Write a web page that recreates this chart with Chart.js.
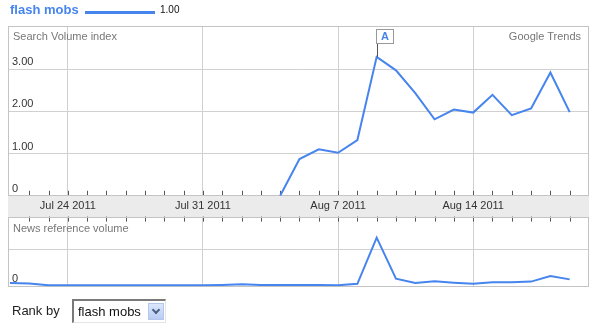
<!DOCTYPE html>
<html>
<head>
<meta charset="utf-8">
<script src="https://cdn.jsdelivr.net/npm/chart.js"></script>
<style>
  body { margin: 0; background: #fff; width: 606px; height: 326px; overflow: hidden; position: relative;
         font-family: "Liberation Sans", Arial, sans-serif; }
  .abs { position: absolute; white-space: nowrap; }
  .note { font-size: 11px; line-height: 13px; color: #777; }
  #topBox { position: absolute; left: 0; top: 0; width: 606px; height: 217px; }
  #newsBox { position: absolute; left: 0; top: 206px; width: 606px; height: 91px; }
  #select { left: 72px; top: 299px; width: 94px; height: 24px; box-sizing: border-box;
            border-top: 2px solid #7a7a7a; border-left: 2px solid #7a7a7a;
            border-right: 1px solid #e4e4e4; border-bottom: 1px solid #e4e4e4; }
  #select span { position: absolute; left: 4px; top: 3px; font-size: 13px; line-height: 16px; color: #111;
                 font-family: "Liberation Sans Narrow", "Liberation Sans", Arial, sans-serif; }
  #select i { position: absolute; right: 1px; top: 2px; width: 16px; height: 17px;
              background: linear-gradient(#dbe6fb, #b9cdf3); border: 1px solid #b4c6ee; box-sizing: border-box; }
  #select i:after { content: ""; position: absolute; left: 4px; top: 3px; width: 4px; height: 4px;
                    border-right: 2px solid #4d6185; border-bottom: 2px solid #4d6185; transform: rotate(45deg); }
</style>
</head>
<body>
<div id="topBox"><canvas id="searchChart"></canvas></div>
<div id="newsBox"><canvas id="newsChart"></canvas></div>

<div class="abs" style="left:10px;top:2px;font-size:13px;line-height:15px;font-weight:bold;color:#4684ee;">flash mobs</div>
<div class="abs" style="left:85px;top:11px;width:70px;height:3px;background:#4684ee;"></div>
<div class="abs" style="left:160px;top:4px;font-size:10px;line-height:12px;color:#111;">1.00</div>
<div class="abs note" style="left:13px;top:30px;">Search Volume index</div>
<div class="abs note" style="right:25px;top:30px;">Google Trends</div>
<div class="abs note" style="left:13px;top:222px;">News reference volume</div>
<div class="abs" style="left:12px;top:303px;font-size:13px;line-height:15px;color:#222;">Rank by</div>
<div class="abs" id="select"><span>flash mobs</span><i></i></div>

<script>
const days = ['Jul 21', 'Jul 22', 'Jul 23', 'Jul 24', 'Jul 25', 'Jul 26', 'Jul 27', 'Jul 28', 'Jul 29', 'Jul 30',
  'Jul 31', 'Aug 1', 'Aug 2', 'Aug 3', 'Aug 4', 'Aug 5', 'Aug 6', 'Aug 7', 'Aug 8', 'Aug 9',
  'Aug 10', 'Aug 11', 'Aug 12', 'Aug 13', 'Aug 14', 'Aug 15', 'Aug 16', 'Aug 17', 'Aug 18', 'Aug 19'];

const searchVolume = [null, null, null, null, null, null, null, null, null, null,
  null, null, null, null, 0, 0.87, 1.10, 1.02, 1.32, 3.29,
  2.97, 2.43, 1.81, 2.04, 1.97, 2.39, 1.91, 2.07, 2.92, 1.98];

const newsVolume = [0.09, 0.08, 0.03, 0.03, 0.03, 0.03, 0.03, 0.03, 0.03, 0.03,
  0.03, 0.04, 0.06, 0.04, 0.04, 0.04, 0.04, 0.03, 0.07, 1.32,
  0.21, 0.09, 0.14, 0.10, 0.07, 0.11, 0.11, 0.13, 0.28, 0.19];

const weekDays = ['Jul 24', 'Jul 31', 'Aug 7', 'Aug 14'];
const weekLabels = ['Jul 24 2011', 'Jul 31 2011', 'Aug 7 2011', 'Aug 14 2011'];

const searchTicks = [0, 1, 2, 3];
const searchTickLabels = ['0', '1.00', '2.00', '3.00'];
const newsTicks = [0, 1];
const newsTickLabels = ['0', ''];

const markerDay = 'Aug 9';
const markerLabel = 'A';

const BLUE = '#4684ee';
const GRID = '#d0d0d0';
const FONT = '"Liberation Sans", Arial, sans-serif';

// band behind the dates, small day ticks, frame and the "A" flag
const framePlugin = {
  id: 'frame',
  beforeDraw(chart, args, o) {
    const { ctx, chartArea: a, scales: { x } } = chart;
    if (o.band) {
      ctx.save();
      ctx.fillStyle = '#ebebeb';
      ctx.fillRect(a.left, a.bottom, a.right - a.left, x.bottom - a.bottom);
      ctx.restore();
    }
  },
  beforeDatasetsDraw(chart, args, o) {
    const { ctx, chartArea: a, scales: { x } } = chart;
    ctx.save();
    ctx.strokeStyle = '#555';
    ctx.lineWidth = 1;
    ctx.beginPath();
    days.forEach((d, i) => {
      if (i === 0) return;
      const px = Math.round(x.getPixelForValue(i)) + 0.5;
      if (o.tickSide === 'bottom') {
        ctx.moveTo(px, a.bottom - 5);
        ctx.lineTo(px, a.bottom);
      } else {
        ctx.moveTo(px, a.top);
        ctx.lineTo(px, a.top + 5);
      }
    });
    ctx.stroke();
    ctx.strokeStyle = '#c4c4c4';
    ctx.strokeRect(Math.round(a.left) + 0.5, Math.round(a.top) + 0.5,
      Math.round(a.right - a.left) - 1, Math.round(a.bottom - a.top) - 1);
    ctx.restore();
  },
  afterDatasetsDraw(chart, args, o) {
    if (!o.marker) return;
    const { ctx, chartArea: a, scales: { x, y } } = chart;
    const i = days.indexOf(markerDay);
    const px = Math.round(x.getPixelForValue(i)) + 0.5;
    const py = y.getPixelForValue(searchVolume[i]);
    const top = a.top + 3.5;
    ctx.save();
    ctx.strokeStyle = '#555';
    ctx.beginPath();
    ctx.moveTo(px, top + 14);
    ctx.lineTo(px, py);
    ctx.stroke();
    ctx.fillStyle = '#fff';
    ctx.strokeStyle = '#999';
    ctx.fillRect(px - 1, top, 17, 14);
    ctx.strokeRect(px - 1, top, 17, 14);
    ctx.fillStyle = BLUE;
    ctx.font = 'bold 11px ' + FONT;
    ctx.textAlign = 'center';
    ctx.textBaseline = 'middle';
    ctx.fillText(markerLabel, px + 7.5, top + 7.5);
    ctx.restore();
  }
};

function makeChart(id, values, yMax, yTicks, yLabels, showDates, frame, padding) {
  return new Chart(document.getElementById(id), {
    type: 'line',
    data: {
      datasets: [{
        data: values.map((v, i) => ({ x: i, y: v })),
        borderColor: BLUE,
        borderWidth: 2,
        pointRadius: 0,
        tension: 0,
        spanGaps: false
      }]
    },
    options: {
      responsive: true,
      maintainAspectRatio: false,
      animation: false,
      layout: { padding },
      plugins: { legend: { display: false }, tooltip: { enabled: false }, frame },
      scales: {
        x: {
          type: 'linear',
          min: -0.1,
          max: 30,
          border: { display: false },
          grid: { color: GRID, drawTicks: false },
          afterBuildTicks: s => { s.ticks = weekDays.map(d => ({ value: days.indexOf(d) })); },
          ticks: {
            display: showDates,
            autoSkip: false,
            maxRotation: 0,
            padding: 4,
            color: '#333',
            font: { size: 11, family: FONT },
            callback: (v, i) => weekLabels[i]
          }
        },
        y: {
          min: 0,
          max: yMax,
          border: { display: false },
          grid: { color: GRID, drawTicks: false },
          afterBuildTicks: s => { s.ticks = yTicks.map(v => ({ value: v })); },
          ticks: {
            mirror: true,
            padding: 4,
            labelOffset: -7,
            color: '#333',
            font: { size: 11, family: FONT },
            callback: (v, i) => yLabels[i]
          }
        }
      }
    },
    plugins: [framePlugin]
  });
}

makeChart('searchChart', searchVolume, 4.02, searchTicks, searchTickLabels, true,
  { band: true, tickSide: 'bottom', marker: true }, { top: 26, left: 0, right: 17, bottom: 0 });
makeChart('newsChart', newsVolume, 1.89, newsTicks, newsTickLabels, false,
  { band: false, tickSide: 'top', marker: false }, { top: 0, left: 0, right: 17, bottom: 10 });
</script>
</body>
</html>
